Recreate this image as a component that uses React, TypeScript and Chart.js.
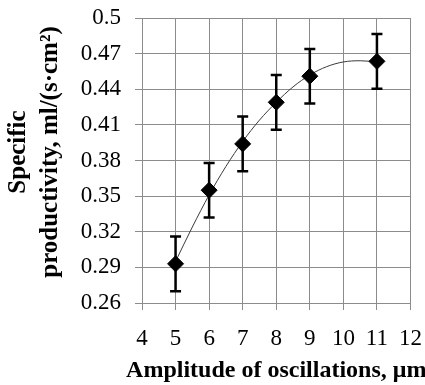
import React, { useEffect, useRef } from "react";
import { Chart, registerables } from "chart.js";

Chart.register(...registerables);

// ---- data ----
const amplitudes = [5, 6, 7, 8, 9, 11];
const productivity = [0.293, 0.355, 0.394, 0.429, 0.451, 0.4635];
const errors = [0.023, 0.023, 0.023, 0.023, 0.023, 0.023];
const trendX = [5, 5.5, 6, 6.5, 7, 7.5, 8, 8.5, 9, 9.5, 10, 10.5, 11];
const trendY = [0.295, 0.324, 0.351, 0.375, 0.396, 0.414, 0.429, 0.442, 0.452, 0.459, 0.463, 0.464, 0.463];
const xTicks = [4, 5, 6, 7, 8, 9, 10, 11, 12];
const yTicks = [0.26, 0.29, 0.32, 0.35, 0.38, 0.41, 0.44, 0.47, 0.5];
const xTitle = "Amplitude of oscillations, μm";
const yTitle = ["Specific", "productivity, ml/(s·cm²)"];

const GRID = "#8c8c8c";
const FONT = "'Liberation Serif', 'Times New Roman', serif";

const errorBarPlugin = {
  id: "errorBars",
  afterDatasetsDraw(chart: any) {
    const { ctx, scales } = chart;
    const xs = scales.x;
    const ys = scales.y;
    ctx.save();
    ctx.strokeStyle = "#000";
    ctx.lineWidth = 2.5;
    const cap = 5.5;
    amplitudes.forEach((xv, i) => {
      const px = xs.getPixelForValue(xv);
      const top = ys.getPixelForValue(productivity[i] + errors[i]);
      const bot = ys.getPixelForValue(productivity[i] - errors[i]);
      ctx.beginPath();
      ctx.moveTo(px, top);
      ctx.lineTo(px, bot);
      ctx.moveTo(px - cap, top);
      ctx.lineTo(px + cap, top);
      ctx.moveTo(px - cap, bot);
      ctx.lineTo(px + cap, bot);
      ctx.stroke();
    });
    ctx.restore();
  },
};

// axis titles, positioned like the reference
const titlesPlugin = {
  id: "axisTitles",
  afterDraw(chart: any) {
    const { ctx, chartArea } = chart;
    ctx.save();
    ctx.fillStyle = "#000";
    ctx.textAlign = "center";
    // y title: two rotated lines
    ctx.font = `bold 25px ${FONT}`;
    ctx.textBaseline = "middle";
    const cy = 152;
    const xs = [19, 51];
    yTitle.forEach((line, i) => {
      ctx.save();
      ctx.translate(xs[i], cy);
      ctx.rotate(-Math.PI / 2);
      ctx.fillText(line, 0, 0);
      ctx.restore();
    });
    // x title
    ctx.font = `bold 24px ${FONT}`;
    ctx.textBaseline = "alphabetic";
    ctx.fillText(xTitle, (chartArea.left + chartArea.right) / 2, 377);
    ctx.restore();
  },
};

export default function App() {
  const ref = useRef<HTMLCanvasElement | null>(null);

  useEffect(() => {
    document.body.style.margin = "0";
    if (!ref.current) return;
    const chart = new Chart(ref.current, {
      type: "scatter",
      data: {
        datasets: [
          {
            label: "data",
            data: amplitudes.map((x, i) => ({ x, y: productivity[i] })),
            pointStyle: "rectRot",
            pointRadius: 8,
            pointBackgroundColor: "#000",
            pointBorderColor: "#000",
            pointBorderWidth: 1,
            showLine: false,
          },
          {
            label: "trend",
            data: trendX.map((x, i) => ({ x, y: trendY[i] })),
            showLine: true,
            borderColor: "#3a3a3a",
            borderWidth: 1,
            pointRadius: 0,
            cubicInterpolationMode: "monotone",
          },
        ],
      },
      options: {
        animation: false,
        responsive: true,
        maintainAspectRatio: false,
        layout: { padding: 0 },
        plugins: {
          legend: { display: false },
          tooltip: { enabled: false },
        },
        scales: {
          x: {
            type: "linear",
            min: 4,
            max: 12,
            afterBuildTicks: (s: any) => {
              s.ticks = xTicks.map((v) => ({ value: v }));
            },
            afterFit: (s: any) => {
              s.height = 82;
              s.paddingLeft = 0;
              s.paddingRight = 14.5;
            },
            ticks: {
              color: "#000",
              font: { family: FONT, size: 23 },
              padding: 15,
              maxRotation: 0,
              autoSkip: false,
              callback: (v: any) => String(v),
            },
            grid: { color: GRID, lineWidth: 1, tickLength: 7, drawTicks: true },
            border: { color: GRID, width: 1 },
          },
          y: {
            type: "linear",
            min: 0.26,
            max: 0.5,
            afterBuildTicks: (s: any) => {
              s.ticks = yTicks.map((v) => ({ value: v }));
            },
            afterFit: (s: any) => {
              s.width = 142;
              s.paddingTop = 18;
              s.paddingBottom = 0;
            },
            ticks: {
              color: "#000",
              font: { family: FONT, size: 23 },
              padding: 14,
              autoSkip: false,
              callback: (v: any) => String(Number(Number(v).toFixed(2))),
            },
            grid: { color: GRID, lineWidth: 1, tickLength: 7, drawTicks: true },
            border: { color: GRID, width: 1 },
          },
        },
      },
      plugins: [errorBarPlugin, titlesPlugin],
    } as any);
    return () => chart.destroy();
  }, []);

  return (
    <div style={{ position: "relative", width: 425, height: 385 }}>
      <canvas ref={ref} />
    </div>
  );
}
